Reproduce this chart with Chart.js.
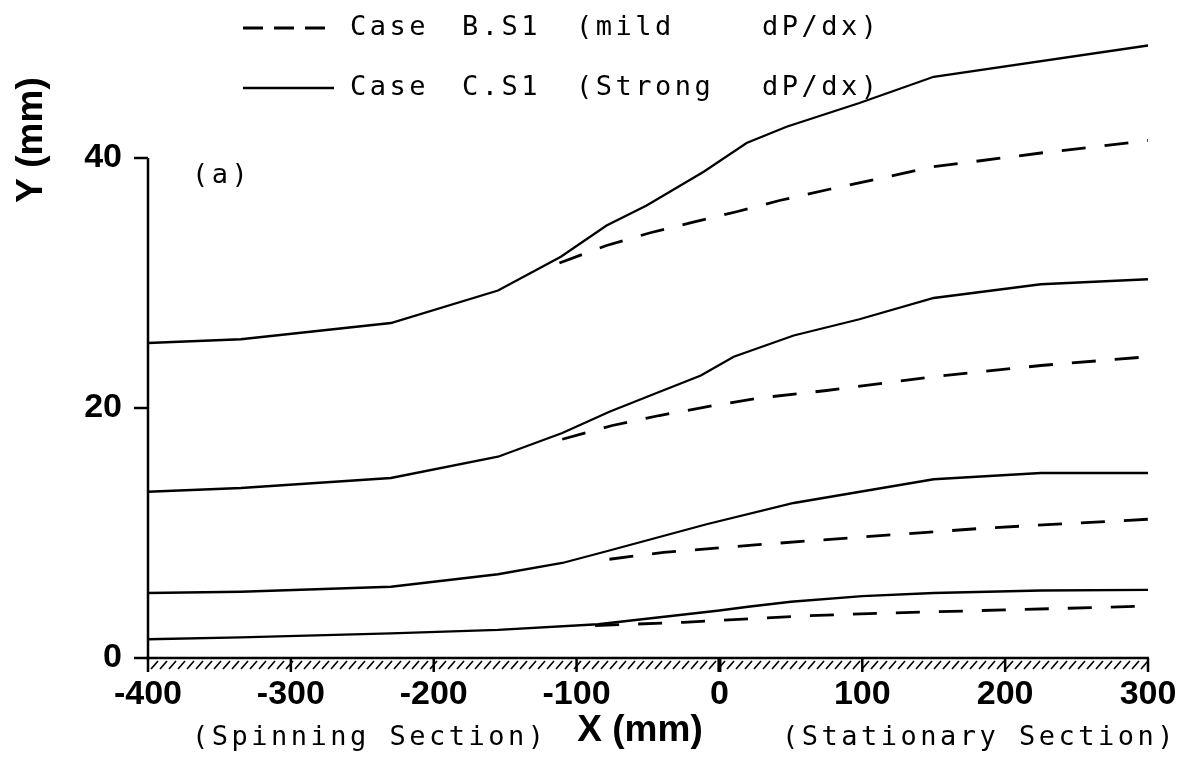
<!DOCTYPE html>
<html>
<head>
<meta charset="utf-8">
<script src="https://cdn.jsdelivr.net/npm/chart.js@4.4.1/dist/chart.umd.min.js"></script>
<style>
    html, body { margin: 0; padding: 0; background: #fff; }
    #wrap { width: 1195px; height: 763px; position: relative; }
</style>
</head>
<body>
<div id="wrap"><canvas id="canvas"></canvas></div>
<script>
// Деления осей.
const xTicks = [-400, -300, -200, -100, 0, 100, 200, 300]
const yTicks = [0, 20, 40]

// Case C.S1 (сильный градиент давления), четыре линии.
const c1X = [-400, -335, -230, -155, -85, 0, 20, 50, 100, 150, 225, 300]
const c1Y = [1.5, 1.65, 1.97, 2.25, 2.7, 3.8, 4.1, 4.5, 4.95, 5.2, 5.4, 5.45]
const c2X = [-400, -335, -230, -155, -110, -77, -9, 52, 150, 225, 300]
const c2Y = [5.2, 5.3, 5.7, 6.7, 7.6, 8.6, 10.7, 12.4, 14.3, 14.8, 14.8]
const c3X = [-400, -335, -230, -155, -110, -77, -44, -13, 10, 52, 98, 150, 225, 300]
const c3Y = [13.3, 13.6, 14.4, 16.1, 18.0, 19.7, 21.2, 22.6, 24.1, 25.8, 27.1, 28.8, 29.9, 30.3]
const c4X = [-400, -335, -230, -155, -111, -79, -51, -11, 19, 47, 98, 150, 300]
const c4Y = [25.2, 25.5, 26.8, 29.4, 32.1, 34.6, 36.2, 38.9, 41.2, 42.5, 44.4, 46.5, 49.0]

// Case B.S1 (умеренный градиент давления), четыре линии.
const b1X = [-87, -25, 57, 110, 200, 300]
const b1Y = [2.6, 2.85, 3.36, 3.57, 3.85, 4.15]
const b2X = [-77, -39, 25, 90, 187, 300]
const b2Y = [7.9, 8.45, 9.05, 9.6, 10.4, 11.1]
const b3X = [-110, -75, -42, -4, 28, 75, 150, 225, 300]
const b3Y = [17.5, 18.6, 19.4, 20.2, 20.8, 21.4, 22.5, 23.4, 24.1]
const b4X = [-112, -79, -49, -19, 12, 42, 77, 150, 225, 300]
const b4Y = [31.6, 33.0, 34.0, 34.85, 35.7, 36.6, 37.5, 39.3, 40.4, 41.4]

const monoFont = '27px "DejaVu Sans Mono"'
const titleFont = 'bold 37px "Liberation Sans"'
const tickFont = { family: 'Liberation Sans', weight: 'bold', size: 34 }
const dash = [24, 19]

// Собирает точки из двух массивов.
function points(xs, ys) {
    return xs.map((x, i) => ({ x, y: ys[i] }))
}

function solid(xs, ys) {
    return { data: points(xs, ys), borderColor: '#000', borderWidth: 2.3 }
}

function dashed(xs, ys) {
    return { data: points(xs, ys), borderColor: '#000', borderWidth: 2.8, borderDash: dash }
}

// Рисует оси, штриховку стенки, подписи и легенду.
const decorations = {
    id: 'decorations',
    afterDraw(chart) {
        const { ctx, scales: { x, y } } = chart
        const left = x.getPixelForValue(-400)
        const right = x.getPixelForValue(300)
        const base = y.getPixelForValue(0)
        const top = y.getPixelForValue(40)

        const line = (x1, y1, x2, y2) => {
            ctx.beginPath()
            ctx.moveTo(x1, y1)
            ctx.lineTo(x2, y2)
            ctx.stroke()
        }

        ctx.save()
        ctx.strokeStyle = '#000'
        ctx.lineCap = 'butt'

        // Ось Y и её деления.
        ctx.lineWidth = 2.5
        line(left, base + 1, left, top)
        yTicks.forEach(v => line(left - 14, y.getPixelForValue(v), left, y.getPixelForValue(v)))

        // Ось X, штриховка и деления.
        line(left - 2, base, right + 1, base)
        ctx.lineWidth = 1.7
        for (let px = left + 3; px < right - 5; px += 9) {
            line(px, base + 11, px + 7, base + 3)
        }
        xTicks.forEach(v => {
            const px = x.getPixelForValue(v)
            ctx.lineWidth = v === 0 ? 4 : 2.5
            line(px, base, px, base + 14)
        })

        ctx.fillStyle = '#000'

        // Заголовки осей.
        ctx.font = titleFont
        ctx.textAlign = 'center'
        ctx.textBaseline = 'middle'
        ctx.fillText('X (mm)', 640, 731)
        ctx.save()
        ctx.translate(32, 140)
        ctx.rotate(-Math.PI / 2)
        ctx.fillText('Y (mm)', 0, 0)
        ctx.restore()

        // Подписи участков и метка рисунка.
        ctx.font = monoFont
        ctx.letterSpacing = '3.5px'
        ctx.textAlign = 'left'
        ctx.fillText('(Spinning Section)', 192, 738)
        ctx.fillText('(Stationary Section)', 782, 738)
        ctx.fillText('(a)', 192, 176)

        // Легенда.
        const rows = [
            { y: 28, dashed: true, words: ['Case', 'B.S1', '(mild', 'dP/dx)'] },
            { y: 88, dashed: false, words: ['Case', 'C.S1', '(Strong', 'dP/dx)'] },
        ]
        const wordX = [350, 462, 576, 762]
        rows.forEach(row => {
            ctx.lineWidth = row.dashed ? 2.8 : 2.3
            ctx.setLineDash(row.dashed ? [20, 11] : [])
            line(243, row.y, 334, row.y)
            ctx.setLineDash([])
            row.words.forEach((w, i) => ctx.fillText(w, wordX[i], row.y))
        })

        ctx.restore()
    },
}

window.addEventListener('DOMContentLoaded', () => {
    const canvas = document.querySelector('#canvas')

    new Chart(canvas, {
        type: 'line',
        data: {
            datasets: [
                solid(c1X, c1Y), solid(c2X, c2Y), solid(c3X, c3Y), solid(c4X, c4Y),
                dashed(b1X, b1Y), dashed(b2X, b2Y), dashed(b3X, b3Y), dashed(b4X, b4Y),
            ],
        },
        options: {
            animation: false,
            responsive: true,
            maintainAspectRatio: false,
            devicePixelRatio: 1,
            layout: { padding: { left: 0, right: 47, top: 8, bottom: 0 } },
            elements: {
                point: { radius: 0 },
                line: { tension: 0, fill: false },
            },
            plugins: {
                legend: { display: false },
                tooltip: { enabled: false },
            },
            scales: {
                x: {
                    type: 'linear',
                    min: -400,
                    max: 300,
                    border: { display: false },
                    grid: { display: false, drawTicks: false },
                    afterBuildTicks: s => { s.ticks = xTicks.map(value => ({ value })) },
                    afterFit: s => {
                        s.height = 105
                        s.paddingLeft = 0
                        s.paddingRight = 0
                    },
                    ticks: {
                        color: '#000',
                        padding: 16,
                        maxRotation: 0,
                        autoSkip: false,
                        font: tickFont,
                    },
                },
                y: {
                    type: 'linear',
                    min: 0,
                    max: 52,
                    border: { display: false },
                    grid: { display: false, drawTicks: false },
                    afterBuildTicks: s => { s.ticks = yTicks.map(value => ({ value })) },
                    afterFit: s => {
                        s.width = 148
                        s.paddingTop = 0
                        s.paddingBottom = 0
                    },
                    ticks: {
                        color: '#000',
                        padding: 26,
                        font: tickFont,
                    },
                },
            },
        },
        plugins: [decorations],
    })
})
</script>
</body>
</html>
